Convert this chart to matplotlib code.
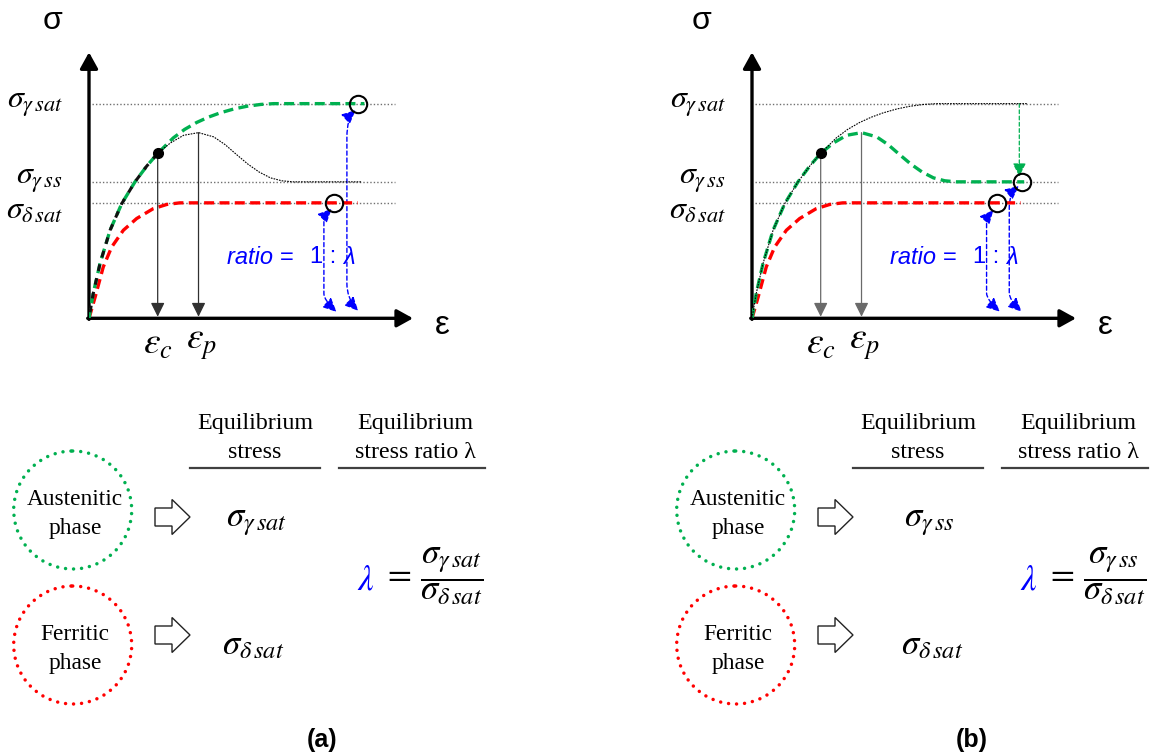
import numpy as np
import matplotlib.pyplot as plt
from matplotlib.path import Path
from matplotlib.patches import FancyArrowPatch, FancyArrow, Circle

plt.rcParams['mathtext.fontset'] = 'stix'

W, H = 1151, 754

# equilibrium stress levels (arbitrary units, axes run 0..100)
sig_gamma_sat = 80.7
sig_gamma_ss = 51.3
sig_delta_sat = 43.4

# critical point and peak
eps_c, sig_c = 21.2, 62.0
eps_p, sig_p = 33.8, 69.8

# common rising branch of the austenite curve (origin -> critical point)
rise_x = [0, 1.3, 3.4, 6.5, 10.1, 14.2, 17.8, 21.2]
rise_y = [0, 9.3, 20.6, 33.1, 43.1, 51.3, 57.2, 62.0]

# saturating branch (no softening)
sat_x = [21.2, 26.0, 29.5, 33.2, 36.8, 40.4, 44.7, 48.7, 53.0, 57.0, 85.0]
sat_y = [62.0, 67.8, 71.0, 73.6, 75.6, 77.2, 78.7, 79.7, 80.4, 80.7, 80.7]

# softening branch (peak then steady state)
soft_x = [21.2, 25.1, 29.2, 33.8, 38.5, 42.0, 45.5, 49.0, 52.5, 56.0, 59.5, 63.0, 84.0]
soft_y = [62.0, 65.9, 68.8, 69.8, 68.2, 65.3, 61.6, 58.0, 55.0, 52.8, 51.7, 51.3, 51.3]

# ferrite curve
red_x = [0, 1.9, 4.4, 7.0, 10.6, 14.7, 19.8, 24.0, 28.0, 83.0]
red_y = [0, 8.0, 19.3, 26.8, 33.1, 37.5, 41.2, 42.8, 43.4, 43.4]

GREEN = '#00B050'
RED = '#FF0000'
BLUE = '#0000FF'

fig = plt.figure(figsize=(W / 100, H / 100), dpi=100)
ax0 = fig.add_axes([0, 0, 1, 1])
ax0.set_xlim(0, W)
ax0.set_ylim(H, 0)
ax0.axis('off')


def panel(ox, oy):
    ax = fig.add_axes([ox / W, (H - oy) / H, 324 / W, 266 / H])
    ax.set_xlim(0, 100)
    ax.set_ylim(0, 100)
    ax.axis('off')
    ax.patch.set_facecolor('none')
    return ax


def blue_link(ax, x_line, top_tip, y_top, y_bot, bot_tip):
    verts = [top_tip, (x_line, top_tip[1] - 3.0), (x_line, y_top),
             (x_line, y_bot), (x_line, bot_tip[1] + 4.5), bot_tip]
    codes = [Path.MOVETO, Path.CURVE3, Path.CURVE3,
             Path.LINETO, Path.CURVE3, Path.CURVE3]
    arr = FancyArrowPatch(path=Path(verts, codes),
                          arrowstyle='<|-|>,head_length=0.75,head_width=0.35',
                          mutation_scale=11, color=BLUE, lw=1.0,
                          linestyle=(0, (3, 2)))
    ax.add_patch(arr)


def draw_axes(ax, c_color):
    kw = dict(arrowstyle='-|>,head_length=0.65,head_width=0.36',
              mutation_scale=15, color='black', lw=2.4, shrinkA=0, shrinkB=0)
    ax.annotate('', xy=(100, 0), xytext=(-0.4, 0), arrowprops=kw)
    ax.annotate('', xy=(0, 100), xytext=(0, -0.4), arrowprops=kw)
    for lvl in (sig_gamma_sat, sig_gamma_ss, sig_delta_sat):
        ax.plot([1, 94.5], [lvl, lvl], color='#707070', lw=1.0,
                ls=(0, (1, 1.5)), zorder=1)
    labels = [(sig_gamma_sat, r'$\sigma_{\gamma\,sat}$', 0),
              (sig_gamma_ss, r'$\sigma_{\gamma\,ss}$', 2),
              (sig_delta_sat, r'$\sigma_{\delta\,sat}$', -5)]
    for lvl, txt, dy in labels:
        ax.annotate(txt, (-8, lvl), xytext=(0, dy), textcoords='offset points',
                    ha='right', va='center', fontsize=23, annotation_clip=False)
    akw = dict(arrowstyle='-|>,head_length=0.85,head_width=0.42',
               mutation_scale=10, color=c_color, lw=0.9, shrinkA=0, shrinkB=0)
    ax.annotate('', xy=(eps_c, 0.6), xytext=(eps_c, sig_c), arrowprops=akw)
    ax.annotate('', xy=(eps_p, 0.6), xytext=(eps_p, sig_p), arrowprops=akw)
    ax.text(eps_c, -3.0, r'$\varepsilon_c$', ha='center', va='top', fontsize=27)
    ax.text(eps_p + 0.8, -3.0, r'$\varepsilon_p$', ha='center', va='top', fontsize=27)


def dashed(ax, x, y, color, z=3):
    ax.plot(x, y, color=color, lw=2.4, ls=(0, (3.0, 1.6)), zorder=z,
            solid_capstyle='butt')


def thin(ax, x, y, z=4):
    ax.plot(x, y, color='black', lw=0.8, ls=(0, (1.5, 1)), zorder=z)


# ---------------- panel (a) ----------------
axa = panel(89, 318.3)
draw_axes(axa, '#303030')
dashed(axa, red_x, red_y, RED, z=2)
dashed(axa, rise_x + sat_x[1:], rise_y + sat_y[1:], GREEN)
axa.plot(rise_x, rise_y, color='#111111', lw=2.2, ls=(2.6, (2.2, 2.4)), zorder=4)
thin(axa, soft_x, soft_y)
axa.plot(eps_c, sig_c, 'o', color='black', ms=7, zorder=6)
axa.plot([83.1, 75.7], [sig_gamma_sat, sig_delta_sat], 'o', ms=12.5,
         mfc='none', mec='black', mew=1.5, zorder=7)
blue_link(axa, 72.5, (74.9, 41.2), 36.6, 9.3, (76.4, 2.4))
blue_link(axa, 79.6, (82.3, 78.3), 68.0, 13.0, (83.1, 2.8))

# ---------------- panel (b) ----------------
axb = panel(752, 318.3)
draw_axes(axb, '#6a6a6a')
dashed(axb, red_x, red_y, RED, z=2)
dashed(axb, rise_x + soft_x[1:], rise_y + soft_y[1:], GREEN)
thin(axb, rise_x + sat_x[1:], rise_y + sat_y[1:])
axb.plot(eps_c, sig_c, 'o', color='black', ms=7, zorder=6)
axb.plot([83.2, 75.5], [sig_gamma_ss, sig_delta_sat], 'o', ms=12.5,
         mfc='none', mec='black', mew=1.5, zorder=7)
axb.add_patch(FancyArrowPatch((82.5, sig_gamma_sat), (82.5, sig_gamma_ss + 2.0),
                              arrowstyle='-|>,head_length=0.8,head_width=0.4',
                              mutation_scale=10, color=GREEN, lw=0.9,
                              linestyle=(0, (3, 2)), shrinkA=0, shrinkB=0))
blue_link(axb, 72.4, (74.5, 40.7), 36.0, 9.5, (76.5, 2.5))
blue_link(axb, 79.4, (82.4, 49.8), 42.0, 9.5, (83.2, 2.5))

# ---------------- annotations ----------------
for dx, sx in ((0, 53), (663, 702)):
    ax0.text(sx, 21, 'σ', fontsize=23, family='Liberation Sans',
             ha='center', va='center')
    ax0.text(442 + dx, 326, 'ε', fontsize=24, family='Liberation Sans',
             ha='center', va='center')
    ax0.text(227 + dx, 257, 'ratio =', fontsize=17, family='Liberation Sans',
             style='italic', color=BLUE, ha='left', va='center')
    ax0.text(310 + dx, 257, '1 :', fontsize=17, family='Liberation Sans',
             color=BLUE, ha='left', va='center')
    ax0.text(343 + dx, 257, 'λ', fontsize=17, family='Liberation Sans',
             style='italic', color=BLUE, ha='left', va='center')

    # column headers
    ax0.text(255 + dx, 438, 'Equilibrium\nstress', fontsize=17.3,
             family='Liberation Serif', ha='center', va='center', linespacing=1.55)
    ax0.text(415 + dx, 438, 'Equilibrium\nstress ratio λ', fontsize=17.3,
             family='Liberation Serif', ha='center', va='center', linespacing=1.55)
    ax0.plot([190 + dx, 320 + dx], [467.7, 467.7], color='#404040', lw=1.6)
    ax0.plot([339 + dx, 485 + dx], [467.7, 467.7], color='#404040', lw=1.6)

    # phase circles
    for cy, col, name in ((510, GREEN, 'Austenitic\nphase'),
                          (645, RED, 'Ferritic\nphase')):
        c = Circle((72.7 + dx, cy), 59, fill=False, ec=col, lw=2.5,
                   linestyle=(0, (0.01, 2.3)))
        c.set_capstyle('round')
        ax0.add_patch(c)
        ax0.text(75 + dx, cy + 4, name, fontsize=16.8, family='Liberation Serif',
                 ha='center', va='center', linespacing=1.5)

    # hollow block arrows
    for cy in (517, 635):
        ax0.add_patch(FancyArrow(155 + dx, cy, 35, 0, width=18, head_width=35,
                                 head_length=18, length_includes_head=True,
                                 fc='white', ec='#222222', lw=1.0))

    ax0.text(366 + dx, 580, r'$\lambda$', fontsize=25, color=BLUE,
             ha='center', va='center')

ax0.text(257, 521, r'$\sigma_{\gamma\,sat}$', fontsize=25, ha='center', va='center')
ax0.text(253, 644, r'$\sigma_{\delta\,sat}$', fontsize=25, ha='center', va='center')
ax0.text(382, 576, r'$=\,\dfrac{\sigma_{\gamma\,sat}}{\sigma_{\delta\,sat}}$',
         fontsize=25, ha='left', va='center')

ax0.text(929, 521, r'$\sigma_{\gamma\,ss}$', fontsize=25, ha='center', va='center')
ax0.text(932, 644, r'$\sigma_{\delta\,sat}$', fontsize=25, ha='center', va='center')
ax0.text(1045, 576, r'$=\,\dfrac{\sigma_{\gamma\,ss}}{\sigma_{\delta\,sat}}$',
         fontsize=25, ha='left', va='center')

ax0.text(322, 740, '(a)', fontsize=18, family='Liberation Sans',
         weight='bold', ha='center', va='center')
ax0.text(972, 740, '(b)', fontsize=18, family='Liberation Sans',
         weight='bold', ha='center', va='center')

fig.savefig('out.png', dpi=100)
